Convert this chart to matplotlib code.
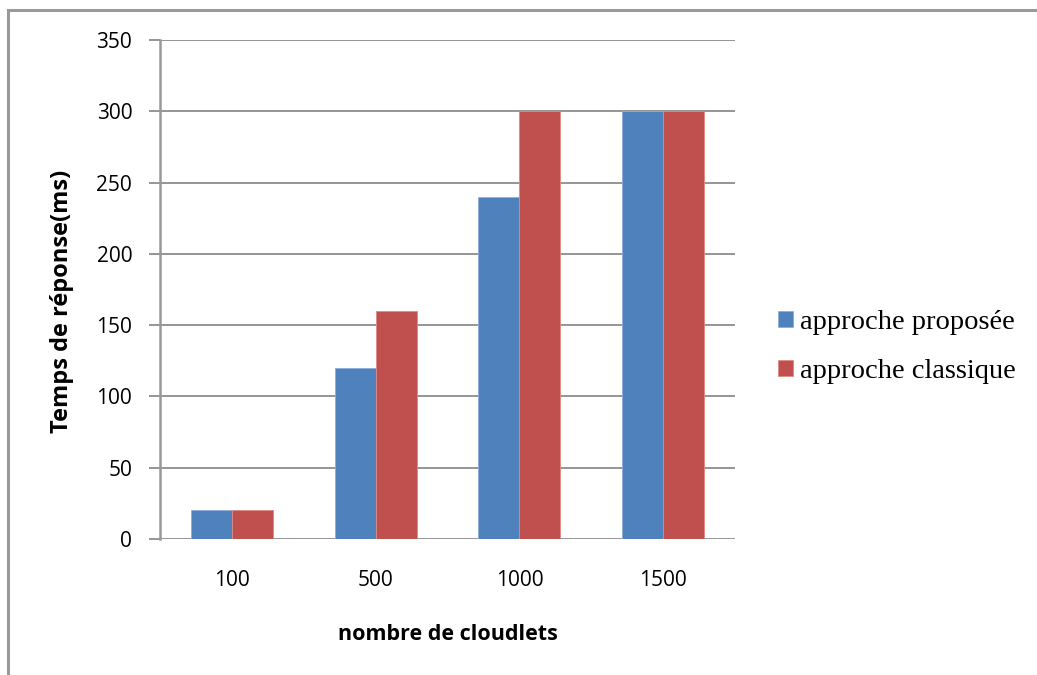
import matplotlib
matplotlib.use('Agg')
import matplotlib.pyplot as plt
from matplotlib.lines import Line2D
import numpy as np

# data
categories = ['100', '500', '1000', '1500']
proposee = [20, 120, 240, 300]
classique = [20, 160, 300, 300]
series_names = ['approche proposée', 'approche classique']

C_BLUE = '#4F81BD'
C_RED = '#C0504D'
C_GRID = '#8C8C8C'

fig = plt.figure(figsize=(10.37, 6.75), dpi=100)
ax = fig.add_axes([160 / 1037, 1 - 539 / 675, 575 / 1037, 499 / 675])

x = np.arange(len(categories))
w = 0.285
ax.bar(x - w / 2, proposee, w, color=C_BLUE, edgecolor='#8EAEDB', linewidth=0.6,
       label=series_names[0], zorder=3)
ax.bar(x + w / 2, classique, w, color=C_RED, edgecolor='#E08A88', linewidth=0.6,
       label=series_names[1], zorder=3)

ax.set_xlim(-0.5, len(categories) - 0.5)
ax.set_ylim(0, 350)
ax.set_yticks(range(0, 351, 50))
ax.set_xticks(x)
ax.set_xticklabels(categories)

for s in ['top', 'right', 'bottom']:
    ax.spines[s].set_visible(False)
ax.spines['left'].set_color('#999999')
ax.spines['left'].set_linewidth(1.8)
ax.yaxis.grid(True, color=C_GRID, linewidth=1.3)
ax.set_axisbelow(True)
ax.tick_params(axis='y', length=8, width=1.3, color=C_GRID, pad=12)
ax.tick_params(axis='x', length=0, pad=22)
for lbl in ax.get_xticklabels() + ax.get_yticklabels():
    lbl.set_family('Open Sans')
    lbl.set_fontsize(15)

ax.set_xlabel('nombre de cloudlets', family='Open Sans', fontsize=15.5,
              weight='bold', labelpad=24)
ax.set_ylabel('Temps de réponse(ms)', family='Open Sans', fontsize=17,
              weight='bold', labelpad=16)
ax.yaxis.label.set_y((539 - 301) / 499)

ax.legend(loc='center left', bbox_to_anchor=(778 / 1037, 1 - 347 / 675),
          bbox_transform=fig.transFigure, frameon=False,
          borderaxespad=0, borderpad=0,
          prop={'family': 'Liberation Serif', 'size': 20.5},
          handlelength=0.52, handleheight=0.52, handletextpad=0.26,
          labelspacing=0.85)

# outer chart border (top and left visible)
fig.add_artist(Line2D([8 / 1037, 8 / 1037], [0, 1 - 10 / 675],
                      transform=fig.transFigure, color='#999999', lw=2.2))
fig.add_artist(Line2D([8 / 1037, 1], [1 - 10 / 675, 1 - 10 / 675],
                      transform=fig.transFigure, color='#999999', lw=2.2))

fig.savefig('out.png', dpi=100)
